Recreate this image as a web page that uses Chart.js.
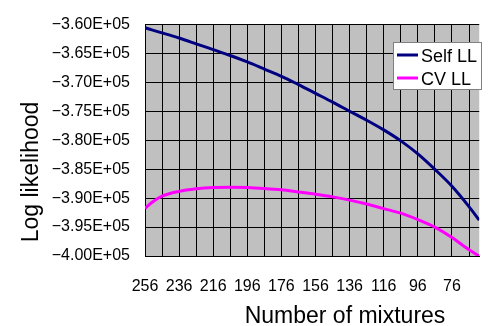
<!DOCTYPE html>
<html lang="en">
<head>
    <meta charset="UTF-8">
    <title>Log likelihood vs mixtures</title>
    <script src="https://cdn.jsdelivr.net/npm/chart.js"></script>
    <style>
        body { margin: 0; background: #fff; overflow: hidden; }
        #grafico { display: block; }
    </style>
</head>
<body>
    <canvas id="grafico" width="490" height="326"></canvas>

<script>
    // numbers of mixtures (x)
    const misturas = [256, 252, 246, 236, 226, 216, 206, 196, 186, 176, 166, 156, 146, 136, 126, 116, 106, 96, 86, 76, 66, 60];
    const selfLL = [-360540, -360920, -361430, -362320, -363320, -364330, -365340, -366460, -367690, -368930, -370370,
        -371880, -373390, -374970, -376530, -378200, -380100, -382350, -385030, -387940, -391460, -393800];
    const cvLL = [-391750, -390740, -389660, -388830, -388390, -388150, -388100, -388150, -388320, -388560, -388940,
        -389330, -389780, -390340, -391010, -391810, -392600, -393700, -395000, -396800, -398900, -400000];
    const nomesSeries = ['Self LL', 'CV LL'];
    const coresSeries = ['#000080', '#ff00ff'];
    // gridlines every 10 mixtures, labels every 20
    const ticksX = [256, 246, 236, 226, 216, 206, 196, 186, 176, 166, 156, 146, 136, 126, 116, 106, 96, 86, 76, 66];
    const rotulosX = [256, 236, 216, 196, 176, 156, 136, 116, 96, 76];

    const fonteTick = { family: '"Liberation Sans", Arial, sans-serif', size: 16 };

    // gray plot background
    const fundo = {
        id: 'fundo',
        beforeDraw(chart) {
            const { ctx, chartArea: a } = chart;
            ctx.save();
            ctx.fillStyle = '#c0c0c0';
            ctx.fillRect(a.left, a.top, a.right - a.left, a.bottom - a.top);
            ctx.restore();
        }
    };

    // axis titles and boxed legend like the excel original
    const extras = {
        id: 'extras',
        afterDraw(chart) {
            const ctx = chart.ctx;
            ctx.save();
            ctx.fillStyle = '#000';
            ctx.font = '23px "Liberation Sans", Arial, sans-serif';
            ctx.textAlign = 'center';
            ctx.textBaseline = 'alphabetic';
            ctx.fillText('Number of mixtures', 345, 323);

            ctx.translate(38, 172);
            ctx.rotate(-Math.PI / 2);
            ctx.fillText('Log likelihood', 0, 0);
            ctx.restore();

            // legend
            ctx.save();
            ctx.fillStyle = '#fff';
            ctx.fillRect(393.5, 42.5, 88, 47);
            ctx.strokeStyle = '#808080';
            ctx.lineWidth = 1;
            ctx.strokeRect(393.5, 42.5, 88, 47);
            ctx.font = '18px "Liberation Sans", Arial, sans-serif';
            ctx.textAlign = 'left';
            ctx.textBaseline = 'middle';
            chart.data.datasets.forEach((ds, i) => {
                const y = 55 + i * 23;
                ctx.strokeStyle = ds.borderColor;
                ctx.lineWidth = 3;
                ctx.beginPath();
                ctx.moveTo(397, y);
                ctx.lineTo(418, y);
                ctx.stroke();
                ctx.fillStyle = '#000';
                ctx.fillText(ds.label, 421, y + 2);
            });
            ctx.restore();
        }
    };

    const ctx = document.getElementById('grafico');

    new Chart(ctx, {
        type: 'line',
        data: {
            datasets: [
                {
                    label: nomesSeries[0],
                    data: misturas.map((m, i) => ({ x: m, y: selfLL[i] })),
                    borderColor: coresSeries[0],
                    borderWidth: 3,
                    pointRadius: 0,
                    cubicInterpolationMode: 'monotone',
                    fill: false
                },
                {
                    label: nomesSeries[1],
                    data: misturas.map((m, i) => ({ x: m, y: cvLL[i] })),
                    borderColor: coresSeries[1],
                    borderWidth: 3,
                    pointRadius: 0,
                    cubicInterpolationMode: 'monotone',
                    fill: false
                }
            ]
        },
        options: {
            responsive: false,
            animation: false,
            layout: { padding: { left: 0, top: 17, right: 0, bottom: 0 } },
            plugins: {
                legend: { display: false },
                tooltip: { enabled: false }
            },
            scales: {
                x: {
                    type: 'linear',
                    reverse: true,
                    min: 60,
                    max: 256,
                    afterBuildTicks: scale => {
                        scale.ticks = ticksX.map(v => ({ value: v }));
                    },
                    afterFit: scale => { scale.height = 70; },
                    grid: { color: '#000', lineWidth: 1, drawTicks: false },
                    border: { color: '#000', width: 1 },
                    ticks: {
                        color: '#000',
                        font: fonteTick,
                        padding: 21,
                        autoSkip: false,
                        maxRotation: 0,
                        callback: v => rotulosX.includes(v) ? String(v) : ''
                    }
                },
                y: {
                    min: -400000,
                    max: -360000,
                    afterFit: scale => { scale.width = 145; },
                    grid: { color: '#000', lineWidth: 1, drawTicks: false },
                    border: { color: '#000', width: 1 },
                    ticks: {
                        stepSize: 5000,
                        color: '#000',
                        font: fonteTick,
                        padding: 15,
                        callback: v => (v < 0 ? '\u2212' : '') + (Math.abs(v) / 1e5).toFixed(2) + 'E+05'
                    }
                }
            }
        },
        plugins: [fundo, extras]
    });
</script>
</body>
</html>
